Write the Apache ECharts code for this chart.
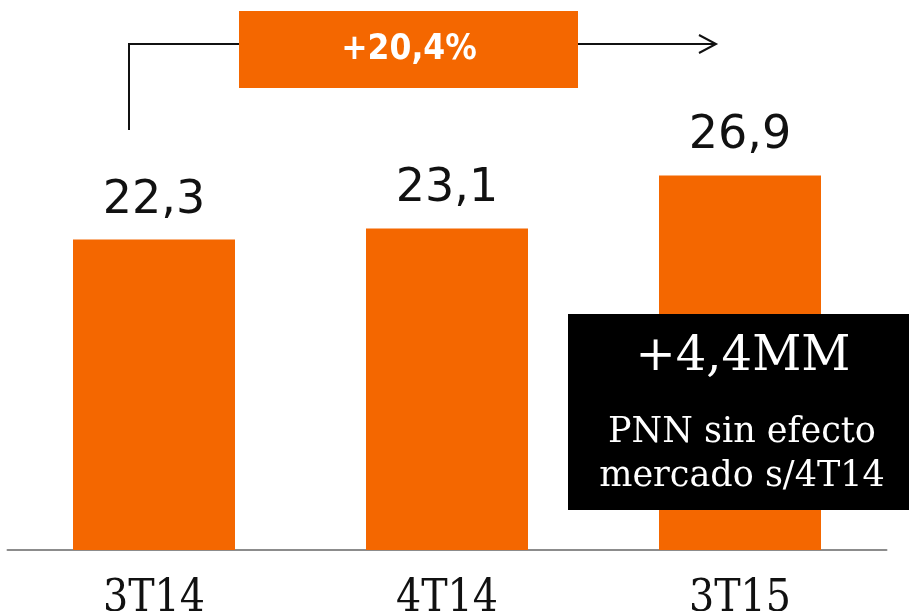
<!DOCTYPE html>
<html>
<head>
<meta charset="utf-8">
<script src="https://cdn.jsdelivr.net/npm/echarts@6/dist/echarts.min.js"></script>
<style>
    html, body { margin: 0; padding: 0; background: #fff; }
    #chart { width: 909px; height: 611px; }
</style>
</head>
<body>
<div id="chart"></div>
<script>
// datos
var categories = ['3T14', '4T14', '3T15'];
var values = [22.3, 23.1, 26.9];
var growthLabel = '+20,4%';
var boxTitle = '+4,4MM';
var boxLines = ['PNN sin efecto', 'mercado s/4T14'];

var orange = '#f46700';
var chart = echarts.init(document.getElementById('chart'));

var option = {
    animation: false,
    grid: {
        left: 7.5,
        right: 22.5,
        top: 21,
        bottom: 61,
        outerBoundsMode: 'none'
    },
    xAxis: {
        type: 'category',
        data: categories,
        axisLine: {
            show: true,
            lineStyle: { color: '#8c8c8c', width: 2 }
        },
        axisTick: { show: false },
        axisLabel: {
            color: '#111',
            fontFamily: 'DejaVu Serif Condensed',
            fontSize: 44,
            margin: 28
        }
    },
    yAxis: {
        type: 'value',
        min: 0,
        max: 38,
        show: false
    },
    series: [{
        type: 'bar',
        data: values,
        barWidth: 162,
        itemStyle: { color: orange },
        label: {
            show: true,
            position: 'top',
            distance: 16,
            color: '#111',
            fontFamily: 'DejaVu Sans',
            fontSize: 46,
            formatter: function (p) {
                return p.value.toFixed(1).replace('.', ',');
            }
        }
    }]
};
chart.setOption(option);

// anotaciones
function txt(x, y, text, font) {
    return {
        type: 'text', x: x, y: y, z: 100,
        style: { text: text, fill: '#fff', font: font, align: 'center', verticalAlign: 'middle' }
    };
}
chart.setOption({
    graphic: [
        {
            type: 'polyline', z: 100,
            shape: { points: [[129, 130], [129, 44], [239, 44]] },
            style: { stroke: '#111', lineWidth: 2, fill: null }
        },
        {
            type: 'polyline', z: 100,
            shape: { points: [[578, 44], [716, 44]] },
            style: { stroke: '#111', lineWidth: 2, fill: null }
        },
        {
            type: 'polyline', z: 100,
            shape: { points: [[699, 35], [716, 44], [699, 53]] },
            style: { stroke: '#111', lineWidth: 2, fill: null }
        },
        {
            type: 'rect', z: 99,
            shape: { x: 239, y: 11, width: 339, height: 77 },
            style: { fill: orange }
        },
        txt(409, 50, growthLabel, 'bold 35px "DejaVu Sans Condensed"'),
        {
            type: 'rect', z: 99,
            shape: { x: 568, y: 314, width: 341, height: 196 },
            style: { fill: '#000' }
        },
        txt(743, 358, boxTitle, '48px "DejaVu Serif"'),
        txt(742, 433, boxLines[0], '35px "DejaVu Serif"'),
        txt(742, 477, boxLines[1], '35px "DejaVu Serif"')
    ]
});
</script>
</body>
</html>
